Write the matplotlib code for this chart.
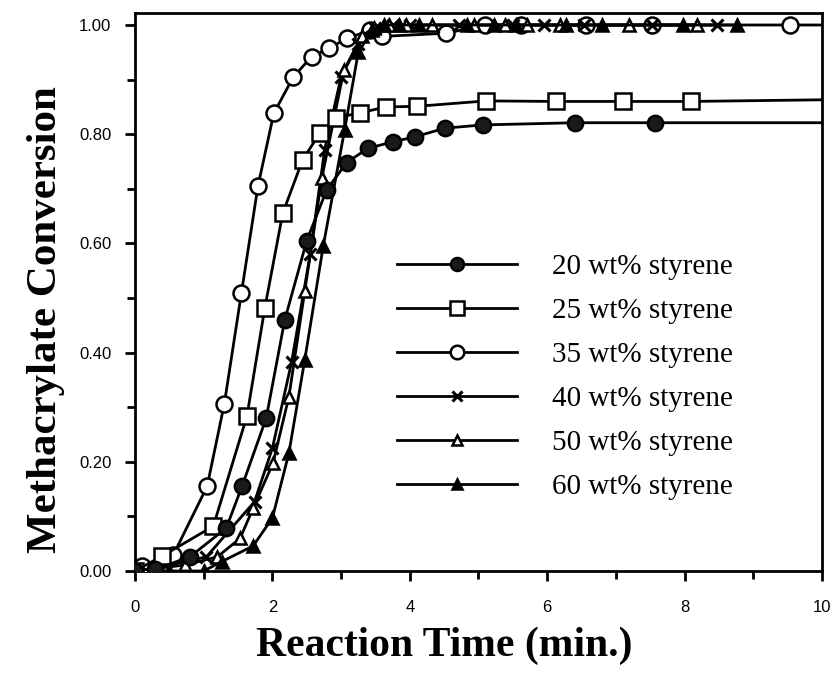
import matplotlib
matplotlib.use("Agg")
import matplotlib.pyplot as plt
from matplotlib.ticker import MultipleLocator, FormatStrFormatter

# ---- data ----
labels = ["20 wt% styrene", "25 wt% styrene", "35 wt% styrene",
          "40 wt% styrene", "50 wt% styrene", "60 wt% styrene"]

t20 = [0, 0.29, 0.8, 1.33, 1.56, 1.91, 2.18, 2.5, 2.79, 3.08, 3.39, 3.75, 4.07,
       4.51, 5.06, 6.41, 7.57, 10]
c20 = [0, 0.003, 0.026, 0.079, 0.156, 0.28, 0.46, 0.605, 0.698, 0.748, 0.774,
       0.786, 0.795, 0.811, 0.817, 0.821, 0.821, 0.821]

t25 = [0, 0.39, 1.14, 1.63, 1.89, 2.15, 2.44, 2.69, 2.93, 3.27, 3.66, 4.1,
       5.11, 6.13, 7.11, 8.09, 10]
c25 = [0, 0.027, 0.082, 0.284, 0.482, 0.655, 0.753, 0.802, 0.83, 0.839, 0.85,
       0.851, 0.861, 0.860, 0.860, 0.860, 0.863]

t35 = [0, 0.1, 0.56, 1.05, 1.30, 1.55, 1.79, 2.02, 2.30, 2.57, 2.82, 3.09,
       3.42, 3.59, 4.53, 5.1, 5.62, 6.56, 7.53, 9.54, 10]
c35 = [0, 0.01, 0.03, 0.155, 0.306, 0.51, 0.705, 0.838, 0.904, 0.942, 0.957,
       0.976, 0.99, 0.979, 0.985, 1.0, 1.0, 1.0, 1.0, 1.0, 1.0]

t40 = [0, 0.3, 1.04, 1.74, 2.0, 2.28, 2.55, 2.76, 3.0, 3.25, 3.5, 3.75, 4.0,
       4.72, 5.5, 5.96, 6.54, 7.53, 8.47]
c40 = [0, 0.005, 0.026, 0.127, 0.225, 0.383, 0.58, 0.771, 0.905, 0.965, 0.995,
       1.0, 1.0, 1.0, 1.0, 1.0, 1.0, 1.0, 1.0]

t50 = [0, 0.73, 1.2, 1.53, 1.72, 2.01, 2.24, 2.47, 2.72, 3.04, 3.3, 3.48, 3.7,
       3.95, 4.32, 4.94, 5.38, 5.70, 6.18, 7.19, 8.18]
c50 = [0, 0.011, 0.026, 0.06, 0.115, 0.198, 0.319, 0.512, 0.72, 0.917, 0.98,
       0.995, 1.0, 1.0, 1.0, 1.0, 1.0, 1.0, 1.0, 1.0, 1.0]

t60 = [0, 0.5, 1.0, 1.26, 1.72, 2.0, 2.24, 2.47, 2.74, 3.05, 3.25, 3.45, 3.62,
       3.85, 4.14, 4.83, 5.23, 5.55, 6.28, 6.80, 7.97, 8.76]
c60 = [0, 0.0, 0.0, 0.017, 0.046, 0.097, 0.216, 0.386, 0.595, 0.807, 0.95,
       0.99, 1.0, 1.0, 1.0, 1.0, 1.0, 1.0, 1.0, 1.0, 1.0, 1.0]

xticks = [0, 2, 4, 6, 8, 10]
yticks = [0.0, 0.2, 0.4, 0.6, 0.8, 1.0]

# ---- figure ----
fig = plt.figure(figsize=(8.33, 6.79), dpi=100)
ax = fig.add_axes([135/833, 1-571/679, (822-135)/833, (571-13)/679])

lw = 2.0
common = dict(color="black", lw=lw, mec="black", mew=1.8)

ax.plot(t20, c20, marker="o", ms=11, mfc="#1a1a1a", markevery=list(range(len(t20)-1)),
        label=labels[0], zorder=5, **common)
ax.plot(t25, c25, marker="s", ms=11.5, mfc="white", markevery=list(range(len(t25)-1)),
        label=labels[1], zorder=4, **common)
ax.plot(t35, c35, marker="o", ms=11.5, mfc="white", markevery=list(range(len(t35)-1)),
        label=labels[2], zorder=3, **common)
ax.plot(t40, c40, marker="x", ms=9, mew=2.2, color="black", lw=lw,
        label=labels[3], zorder=3)
ax.plot(t50, c50, marker="^", ms=9, mfc="white", label=labels[4], zorder=3, **common)
ax.plot(t60, c60, marker="^", ms=9, mfc="black", label=labels[5], zorder=3, **common)

ax.set_xlim(0, 10)
ax.set_ylim(0, (571-13)/546)

ax.set_xticks(xticks)
ax.set_yticks(yticks)
ax.xaxis.set_minor_locator(MultipleLocator(1))
ax.yaxis.set_minor_locator(MultipleLocator(0.1))
ax.yaxis.set_major_formatter(FormatStrFormatter("%.2f"))
ax.tick_params(which="both", direction="out", top=False, right=False, width=2)
ax.tick_params(which="major", length=7)
ax.tick_params(which="minor", length=6)
ax.tick_params(axis="y", which="major", pad=10)
ax.tick_params(axis="x", which="major", pad=14)
for lbl in ax.get_xticklabels() + ax.get_yticklabels():
    lbl.set_fontfamily("Liberation Sans")
    lbl.set_fontsize(12)
for sp in ax.spines.values():
    sp.set_linewidth(2)

xl = ax.set_xlabel("Reaction Time (min.)", fontfamily="Liberation Serif",
                   fontweight="bold", fontsize=30)
xl.set_va("center")
ax.xaxis.set_label_coords((444-135)/687, (571-646)/558)
yl = ax.set_ylabel("Methacrylate Conversion", fontfamily="Liberation Serif",
                   fontweight="bold", fontsize=31)
yl.set_va("center")
ax.yaxis.set_label_coords((46-135)/687, (571-320)/558)

leg = ax.legend(loc="upper left", bbox_to_anchor=((397-135)/687, (571-254)/558),
                frameon=False, borderpad=0, borderaxespad=0,
                handlelength=4.1, handletextpad=1.2, labelspacing=0.6,
                prop={"family": "Liberation Serif", "size": 21}, markerscale=0.85)

fig.savefig("out.png", dpi=100)
